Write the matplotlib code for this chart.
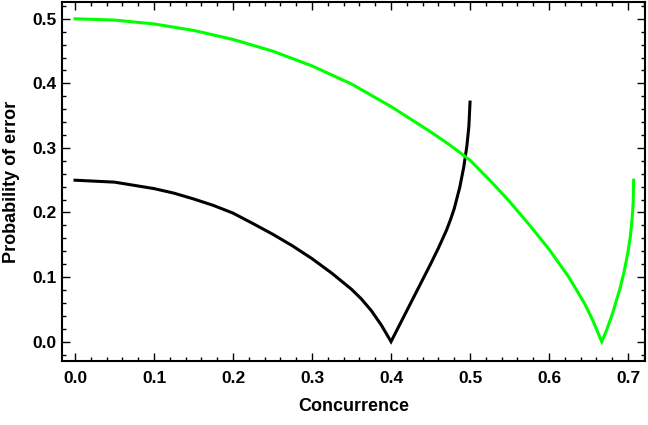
import matplotlib
matplotlib.use("Agg")
import matplotlib.pyplot as plt
from matplotlib.ticker import MultipleLocator

# values
green_c = [0.0, 0.05, 0.10, 0.15, 0.20, 0.25, 0.30, 0.35, 0.40, 0.45, 0.475,
           0.50, 0.525, 0.55, 0.575, 0.60, 0.625, 0.645, 0.655, 0.6667,
           0.672, 0.68, 0.69, 0.695, 0.70, 0.703, 0.705, 0.7065, 0.7071]
green_p = [0.500, 0.498, 0.492, 0.482, 0.468, 0.450, 0.427, 0.399, 0.364, 0.325, 0.304,
           0.281, 0.250, 0.217, 0.181, 0.143, 0.100, 0.059, 0.034, 0.0,
           0.015, 0.042, 0.083, 0.108, 0.139, 0.164, 0.188, 0.215, 0.250]

black_c = [0.0, 0.05, 0.10, 0.125, 0.15, 0.175, 0.20, 0.225, 0.25, 0.275, 0.30,
           0.325, 0.35, 0.3625, 0.375, 0.3875, 0.40,
           0.41, 0.42, 0.43, 0.44, 0.45, 0.46, 0.47, 0.475, 0.48, 0.487, 0.492,
           0.496, 0.4985, 0.500]
black_p = [0.250, 0.247, 0.237, 0.230, 0.221, 0.211, 0.199, 0.183, 0.1665, 0.1485, 0.1285,
           0.106, 0.081, 0.066, 0.048, 0.026, 0.0,
           0.024, 0.048, 0.072, 0.096, 0.120, 0.145, 0.172, 0.188, 0.206, 0.239, 0.270,
           0.303, 0.333, 0.371]

xticks = [0.0, 0.1, 0.2, 0.3, 0.4, 0.5, 0.6, 0.7]
yticks = [0.0, 0.1, 0.2, 0.3, 0.4, 0.5]

plt.rcParams['font.family'] = ['Liberation Sans', 'DejaVu Sans']
plt.rcParams['font.weight'] = 'bold'

fig = plt.figure(figsize=(6.48, 4.25), dpi=100)
ax = fig.add_axes([0.0957, 0.1506, 0.8997, 0.8447])

ax.plot(black_c, black_p, color='black', lw=2.2, solid_joinstyle='miter')
ax.plot(green_c, green_p, color='#00ff00', lw=2.2, solid_joinstyle='miter')

ax.set_xlim(-0.0165, 0.7215)
ax.set_ylim(-0.030, 0.526)
ax.set_xticks(xticks)
ax.set_yticks(yticks)
ax.set_xticklabels(['%.1f' % v for v in xticks])
ax.set_yticklabels(['%.1f' % v for v in yticks])
ax.xaxis.set_minor_locator(MultipleLocator(0.02))
ax.yaxis.set_minor_locator(MultipleLocator(0.02))

ax.tick_params(which='both', direction='in', top=True, right=True, width=1.0)
ax.tick_params(which='major', length=5.5, labelsize=12.5, colors='black')
ax.tick_params(which='minor', length=3)
ax.tick_params(axis='x', which='major', pad=7)
ax.tick_params(axis='y', which='major', pad=4)
for lab in ax.get_xticklabels() + ax.get_yticklabels():
    lab.set_fontweight('bold')

for s in ax.spines.values():
    s.set_linewidth(1.5)

ax.set_xlabel('Concurrence', fontsize=13, fontweight='bold', labelpad=9)
ax.set_ylabel('Probability of error', fontsize=13, fontweight='bold', labelpad=9)

fig.savefig('out.png', dpi=100)
